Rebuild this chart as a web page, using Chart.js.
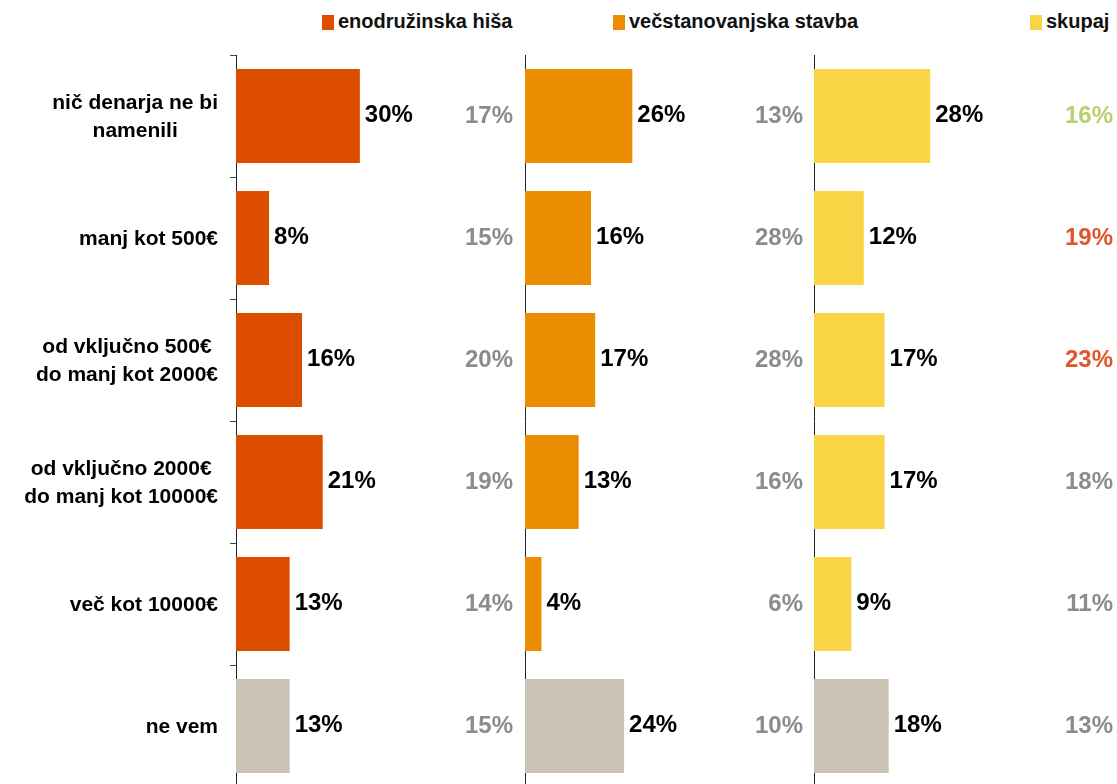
<!DOCTYPE html>
<html>
<head>
<meta charset="utf-8">
<script src="https://cdn.jsdelivr.net/npm/chart.js@4.4.0/dist/chart.umd.min.js"></script>
<style>
body { margin: 0; width: 1117px; height: 784px; overflow: hidden; background: #fff; position: relative; font-family: "Liberation Sans", Arial, sans-serif; }
.panel { position: absolute; top: 0; height: 790px; }
.leg { position: absolute; top: 10px; font-weight: bold; font-size: 20px; color: #111; white-space: nowrap; line-height: 22px; }
.leg i { display: inline-block; width: 12px; height: 15px; margin-right: 4px; vertical-align: -2px; }
</style>
</head>
<body>
<div class="leg" style="left:322px"><i style="background:#dd4d00"></i>enodružinska hiša</div>
<div class="leg" style="left:613px"><i style="background:#ec8c00"></i>večstanovanjska stavba</div>
<div class="leg" style="left:1030px"><i style="background:#f9d546"></i>skupaj</div>

<div class="panel" style="left:0;width:525px"><canvas id="c1"></canvas></div>
<div class="panel" style="left:523px;width:291px"><canvas id="c2"></canvas></div>
<div class="panel" style="left:812px;width:305px"><canvas id="c3"></canvas></div>

<script>
const categories = [
  ['nič denarja ne bi', 'namenili'],
  'manj kot 500€',
  ['od vključno 500€', 'do manj kot 2000€'],
  ['od vključno 2000€', 'do manj kot 10000€'],
  'več kot 10000€',
  'ne vem'
];
const series = ['enodružinska hiša', 'večstanovanjska stavba', 'skupaj'];
const hisa = [30, 8, 16, 21, 13, 13];
const stavba = [26, 16, 17, 13, 4, 24];
const skupaj = [28, 12, 17, 17, 9, 18];
// primerjalne vrednosti (sivo, desno od stolpcev)
const hisaPrej = [17, 15, 20, 19, 14, 15];
const stavbaPrej = [13, 28, 28, 16, 6, 10];
const skupajPrej = [16, 19, 23, 18, 11, 13];

const GREY = '#8c8c8c';
const NEVEM = '#cbc3b3';

const labelPlugin = {
  id: 'vrednosti',
  afterDatasetsDraw(chart, args, opts) {
    const ctx = chart.ctx;
    const area = chart.chartArea;
    const meta = chart.getDatasetMeta(0);
    const data = chart.data.datasets[0].data;
    ctx.save();
    ctx.textBaseline = 'middle';
    ctx.font = 'bold 24px "Liberation Sans", Arial, sans-serif';
    meta.data.forEach((bar, i) => {
      ctx.fillStyle = '#000';
      ctx.textAlign = 'left';
      ctx.fillText(data[i] + '%', bar.x + 5, bar.y - 1);
      ctx.fillStyle = (opts.cmpColors && opts.cmpColors[i]) || GREY;
      ctx.textAlign = 'right';
      ctx.fillText(opts.cmp[i] + '%', area.right - opts.cmpGap, bar.y);
    });
    if (opts.cats) {
      ctx.fillStyle = '#000';
      ctx.textAlign = 'center';
      ctx.font = 'bold 21px "Liberation Sans", Arial, sans-serif';
      const yScale = chart.scales.y;
      chart.data.labels.forEach((lab, i) => {
        const lines = Array.isArray(lab) ? lab : [lab];
        const w = Math.max(...lines.map(l => ctx.measureText(l).width));
        const cx = 218 - w / 2;
        const cy = yScale.getPixelForValue(i) + 1;
        lines.forEach((l, k) => {
          ctx.fillText(l, cx, cy + (k - (lines.length - 1) / 2) * 28);
        });
      });
    }
    ctx.restore();
  }
};

function narediGraf(id, label, values, color, cmp, opt) {
  new Chart(document.getElementById(id), {
    type: 'bar',
    data: {
      labels: categories,
      datasets: [{
        label: label,
        data: values,
        backgroundColor: values.map((v, i) => i === values.length - 1 ? NEVEM : color),
        barPercentage: 0.77,
        categoryPercentage: 1
      }]
    },
    options: {
      indexAxis: 'y',
      responsive: true,
      maintainAspectRatio: false,
      animation: false,
      layout: { padding: { top: 55, bottom: 3, left: 0, right: 0 } },
      plugins: {
        legend: { display: false },
        tooltip: { enabled: false },
        vrednosti: { cmp: cmp, cmpGap: opt.cmpGap, cmpColors: opt.cmpColors, cats: opt.cats }
      },
      scales: {
        x: { display: false, min: 0, max: opt.max },
        y: {
          ticks: { display: false },
          grid: { display: opt.cats, drawOnChartArea: false, drawTicks: true, tickLength: 6, color: '#444', offset: true },
          border: { display: true, color: '#222', width: 1 },
          afterFit: s => { s.width = opt.axisW; }
        }
      }
    },
    plugins: [labelPlugin]
  });
}

narediGraf('c1', series[0], hisa, '#dd4d00', hisaPrej, { max: 70, cmpGap: 12, cats: true, axisW: 236 });
narediGraf('c2', series[1], stavba, '#ec8c00', stavbaPrej, { max: 70, cmpGap: 11, cats: false, axisW: 2 });
narediGraf('c3', series[2], skupaj, '#f9d546', skupajPrej, { max: 73, cmpGap: 4, cats: false, axisW: 2,
  cmpColors: ['#b8d06e', '#e0552a', '#e0552a'] });
</script>
</body>
</html>
